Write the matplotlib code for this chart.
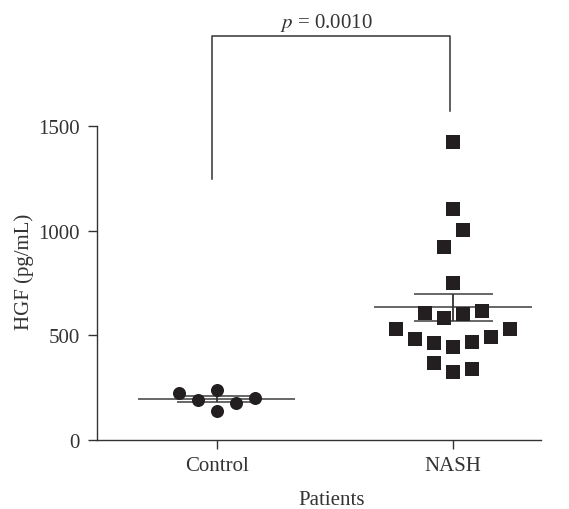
import numpy as np
import matplotlib
matplotlib.use("Agg")
import matplotlib.pyplot as plt

plt.rcParams['font.family'] = ['Liberation Serif', 'DejaVu Serif']
plt.rcParams['mathtext.fontset'] = 'stix'

# data
groups = ["Control", "NASH"]
control_vals = [224, 192, 240, 140, 177, 199]
control_slot = [-2, -1, 0, 0, 1, 2]
nash_vals = [1422, 1102, 1002, 920, 750, 607, 581, 602, 615, 529, 481,
             462, 443, 467, 491, 529, 366, 323, 338]
nash_slot = [0, 0, 0.5, -0.5, 0, -1.5, -0.5, 0.5, 1.5, -3, -2,
             -1, 0, 1, 2, 3, -1, 0, 1]
yticks = [0, 500, 1000, 1500]
p_text = "$p$ = 0.0010"
bracket_y = 1930
bracket_left_bottom = 1245
bracket_right_bottom = 1570

ink = "#231f20"
step = 0.0803
fs = 15

fig = plt.figure(figsize=(5.69, 5.10), dpi=100)
ax = fig.add_axes([0.1705, 0.1353, 0.7803, 0.6157])

ax.scatter(1 + np.array(control_slot) * step, control_vals, marker='o',
           s=88, color=ink, zorder=3, linewidths=0)
ax.scatter(2 + np.array(nash_slot) * step, nash_vals, marker='s',
           s=88, color=ink, zorder=3, linewidths=0)

# mean +/- SEM
for x, vals in [(1, control_vals), (2, nash_vals)]:
    v = np.array(vals, dtype=float)
    m = v.mean()
    sem = v.std(ddof=1) / np.sqrt(len(v))
    ax.hlines(m, x - 0.333, x + 0.333, color="#5a5a5a", lw=1.3, zorder=2)
    ax.hlines([m - sem, m + sem], x - 0.167, x + 0.167, color="#5a5a5a", lw=1.3, zorder=2)
    ax.vlines(x, m - sem, m + sem, color="#333333", lw=1.3, zorder=2)

# significance bracket
bx0, bx1 = 0.979, 1.986
ax.plot([bx0, bx0, bx1, bx1], [bracket_left_bottom, bracket_y, bracket_y, bracket_right_bottom],
        color="#333333", lw=1.1, clip_on=False)
ax.text((bx0 + bx1) / 2 - 0.02, bracket_y + 45, p_text, ha='center', va='baseline',
        fontsize=fs, color="#333333")

ax.set_xlim(0.494, 2.371)
ax.set_ylim(0, 1500)
ax.set_xticks([1, 2])
ax.set_xticklabels(groups)
ax.set_yticks(yticks)
ax.tick_params(axis='both', direction='out', length=6.5, width=1, colors="#333333",
               labelsize=fs, labelcolor="#333333")
ax.tick_params(axis='x', pad=5)
ax.tick_params(axis='y', pad=6)
ax.spines['top'].set_visible(False)
ax.spines['right'].set_visible(False)
for s in ['left', 'bottom']:
    ax.spines[s].set_color("#333333")
    ax.spines[s].set_linewidth(1)

ax.set_ylabel("HGF (pg/mL)", fontsize=fs, color="#333333")
ax.yaxis.set_label_coords(-0.142, 0.538)
ax.set_xlabel("Patients", fontsize=fs, color="#333333")
ax.xaxis.set_label_coords(0.529, -0.16)

fig.savefig("out.png", dpi=100)
